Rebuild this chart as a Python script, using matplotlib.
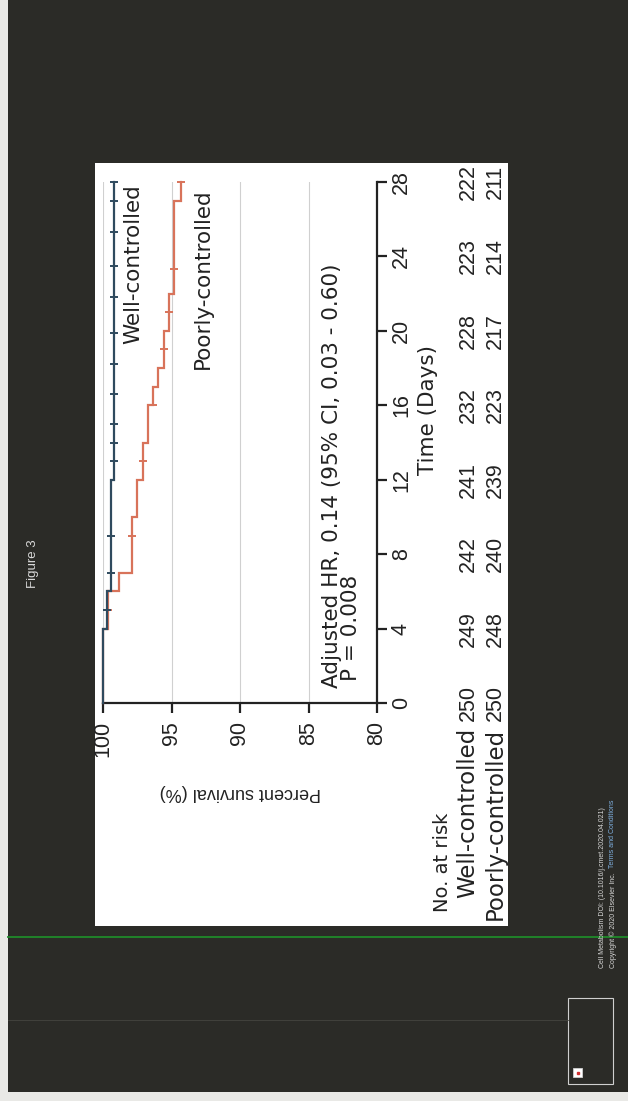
import numpy as np
import matplotlib
matplotlib.use("Agg")
import matplotlib.pyplot as plt
from matplotlib.patches import Rectangle
from matplotlib.lines import Line2D

plt.rcParams['font.family'] = ['Liberation Sans', 'DejaVu Sans']

# Kaplan-Meier estimates (time in days, percent survival)
well_times = [0, 4, 6, 12, 28]
well_surv = [100.0, 99.7, 99.45, 99.2, 99.2]
poor_times = [0, 4, 6, 7, 10, 12, 14, 16, 17, 18, 20, 22, 27, 28]
poor_surv = [100.0, 99.6, 98.8, 97.9, 97.5, 97.1, 96.7, 96.35, 96.0, 95.55,
             95.2, 94.85, 94.3, 94.3]

# censoring marks (days)
well_censor = [5, 7, 9, 13, 14, 15, 16.6, 18.2, 19.9, 21.8, 23.5, 25.3, 27, 28]
poor_censor = [5, 9, 13, 16, 19, 21, 23.3, 28]

# numbers at risk
risk_days = [0, 4, 8, 12, 16, 20, 24, 28]
well_risk = [250, 249, 242, 241, 232, 228, 223, 222]
poor_risk = [250, 248, 240, 239, 223, 217, 214, 211]
group_names = ['Well-controlled', 'Poorly-controlled']

surv_ticks = [100, 95, 90, 85, 80]

WELL_C = '#2f4a5e'
POOR_C = '#d8735a'
INK = '#222222'
SLIDE_BG = '#2b2b27'
TICK_FS = 15.5
NOTE_FS = 15.5
WIDE = ['DejaVu Sans']

W, H = 628, 1101
fig = plt.figure(figsize=(W / 100, H / 100), dpi=100)
fig.patch.set_facecolor('#e9e9e6')


def fx(px):
    return px / W


def fy(py):
    return 1 - py / H


# slide background and white figure panel (pixel coordinates, y downward)
bg = fig.add_axes([0, 0, 1, 1])
bg.set_xlim(0, W)
bg.set_ylim(H, 0)
bg.axis('off')
bg.add_patch(Rectangle((8, 0), 620, 1092, facecolor=SLIDE_BG, edgecolor='none'))
bg.add_patch(Rectangle((95, 163), 413, 763, facecolor='white', edgecolor='none'))
bg.add_line(Line2D([8, 628], [937, 937], color='#1f8a2a', lw=1.3))
bg.add_line(Line2D([8, 568], [1020, 1020], color='#45453f', lw=0.6))
bg.add_patch(Rectangle((568, 998), 45, 86, facecolor='none', edgecolor='#cfcfcf', lw=0.8))
bg.add_patch(Rectangle((573, 1068), 9, 9, facecolor='white', edgecolor='#cfcfcf', lw=0.6))
bg.plot([577.5], [1072.5], marker='s', ms=2, color='#d03030')

bg.text(33, 564, 'Figure 3', rotation=90, ha='center', va='center',
        color='#d9d9d9', fontsize=9.5)
bg.text(603, 968, 'Cell Metabolism DOI: (10.1016/j.cmet.2020.04.021)', rotation=90,
        ha='center', va='bottom', color='#d6d6d6', fontsize=5)
bg.text(613, 968, 'Copyright \u00a9 2020 Elsevier Inc. ', rotation=90,
        ha='center', va='bottom', color='#d6d6d6', fontsize=5)
bg.text(613, 868, 'Terms and Conditions', rotation=90,
        ha='center', va='bottom', color='#7fb0e0', fontsize=5)

# survival plot: time runs upward, survival decreases to the right
ax = fig.add_axes([fx(103), fy(703), fx(377) - fx(103), fy(182) - fy(703)])
ax.set_facecolor('none')
ax.set_xlim(100, 80)
ax.set_ylim(0, 28)


def km_path(times, surv):
    t = np.repeat(times, 2)[1:]
    s = np.repeat(surv, 2)[:-1]
    return s, t


def surv_at(times, surv, t):
    idx = np.searchsorted(times, t, side='right') - 1
    return np.asarray(surv)[idx]


for times, surv, cens, col in [(poor_times, poor_surv, poor_censor, POOR_C),
                               (well_times, well_surv, well_censor, WELL_C)]:
    s, t = km_path(times, surv)
    ax.plot(s, t, color=col, lw=1.6, solid_joinstyle='miter', clip_on=False, zorder=3)
    ax.plot(surv_at(times, surv, cens), cens, ls='none', marker='_', ms=6,
            mew=1.4, color=col, clip_on=False, zorder=3)

ax.set_xticks(surv_ticks)
ax.set_xticklabels([str(v) for v in surv_ticks], rotation=90)
ax.set_yticks(risk_days)
ax.set_yticklabels([str(v) for v in risk_days], rotation=90, va='center')
ax.yaxis.tick_right()
ax.tick_params(axis='both', direction='out', length=7, width=1.6,
               labelsize=TICK_FS, color=INK, labelcolor=INK)
ax.tick_params(axis='x', pad=6)
ax.tick_params(axis='y', pad=3)
for side in ('top', 'left'):
    ax.spines[side].set_visible(False)
for side in ('bottom', 'right'):
    ax.spines[side].set_linewidth(1.6)
    ax.spines[side].set_color(INK)
ax.grid(axis='x', color='#d0d0d0', lw=0.8)
ax.set_axisbelow(True)

bg.text(240, 792, 'Percent survival (%)', rotation=180, ha='center', va='center',
        fontsize=13, color=INK)
bg.text(428, 410, 'Time (Days)', rotation=90, ha='center', va='center',
        fontsize=NOTE_FS, family=WIDE, color=INK)

ax.text(97.8, 23.6, 'Well-controlled', rotation=90, ha='center', va='center',
        fontsize=NOTE_FS, family=WIDE, color=INK)
ax.text(92.7, 22.8, 'Poorly-controlled', rotation=90, ha='center', va='center',
        fontsize=NOTE_FS, family=WIDE, color=INK)
ax.text(83.3, 0.8, 'Adjusted HR, 0.14 (95% CI, 0.03 - 0.60)', rotation=90,
        ha='center', va='bottom', fontsize=NOTE_FS, family=WIDE, color=INK)
ax.text(81.9, 1.2, 'P = 0.008', rotation=90, ha='center', va='bottom',
        fontsize=NOTE_FS, family=WIDE, color=INK)

# numbers at risk table
row_x = [468, 495]
for xpix, counts, name in zip(row_x, [well_risk, poor_risk], group_names):
    for d, n in zip(risk_days, counts):
        bg.text(xpix, 703 - d * (703 - 182) / 28, str(n), rotation=90,
                ha='center', va='center', fontsize=TICK_FS, color=INK)
    bg.text(xpix, 728, name, rotation=90, ha='center', va='top',
            fontsize=16.5, family=WIDE, color=INK)
bg.text(443, 912, 'No. at risk', rotation=90, ha='center', va='bottom',
        fontsize=14, family=WIDE, color=INK)

fig.savefig('out.png', dpi=100, facecolor=fig.get_facecolor())
